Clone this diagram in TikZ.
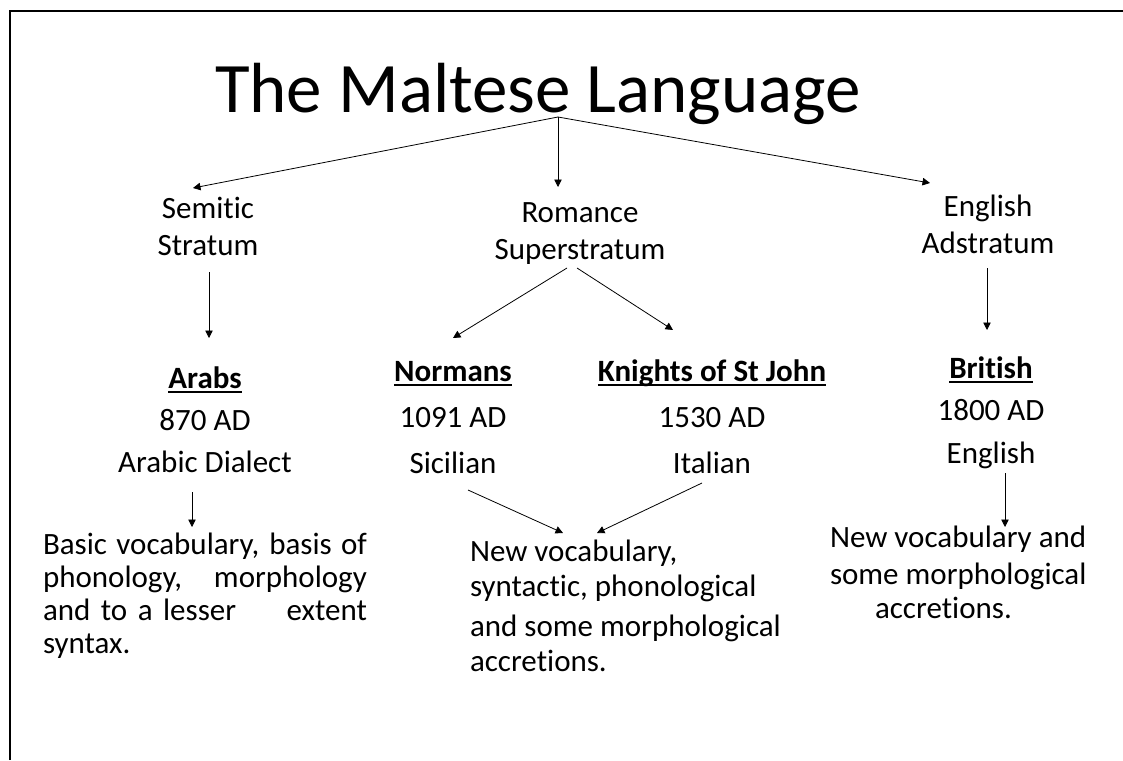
\documentclass[tikz,border=0pt]{standalone}
\usepackage{fontspec}
\setmainfont{Carlito}[RawFeature={-liga;-clig;-dlig;-calt}]
\usetikzlibrary{arrows.meta}
\newcommand\myul[1]{\setbox0\hbox{#1}\rlap{\rule[-4.5pt]{\wd0}{1.6pt}}\box0}
\newcommand\fs[1]{\fontsize{31}{#1}\selectfont}
\begin{document}
\begin{tikzpicture}[x=1pt,y=-1pt,
  lbl/.style={inner sep=0pt,outer sep=0pt,anchor=north,align=center},
  body/.style={inner sep=0pt,outer sep=0pt,anchor=north west,align=left},
  arr/.style={-{Triangle[length=7.5pt,width=7.5pt]},line width=0.8pt},
  frame/.style={line width=1.5pt}]
\fill[white] (0,0) rectangle (1123,760);
\useasboundingbox (0,0) rectangle (1123,760);
\draw[frame] (10,760) -- (10,11) -- (1123,11);

\node[inner sep=0pt,outer sep=0pt,anchor=base,font={\fontsize{71}{80}\selectfont}] (title) at (538,112) {The Maltese Language};

\node[lbl,font={\fs{37}}] (semitic) at (208,193) {\rule{0pt}{25pt}Semitic\\Stratum};
\node[lbl,font={\fs{37}}] (romance) at (580,197) {\rule{0pt}{25pt}Romance\\Superstratum};
\node[lbl,font={\fs{37}}] (english) at (988,191) {\rule{0pt}{25pt}English\\Adstratum};

\node[lbl,font={\fs{42}}] (arabs) at (205,363) {\rule{0pt}{25pt}\textbf{\myul{Arabs}}\\870 AD\\Arabic Dialect};
\node[lbl,font={\fs{46}}] (normans) at (453,356) {\rule{0pt}{25pt}\textbf{\myul{Normans}}\\1091 AD\\Sicilian};
\node[lbl,font={\fs{46}}] (knights) at (712,356) {\rule{0pt}{25pt}\textbf{\myul{Knights of St John}}\\1530 AD\\Italian};
\node[lbl,font={\fs{42.5}}] (british) at (991,353) {\rule{0pt}{25pt}\textbf{\myul{British}}\\1800 AD\\English};

\node[body,font={\fs{33}}] (leftbody) at (43,529) {\rule{0pt}{25pt}\makebox[324pt][s]{Basic vocabulary, basis of}\\
\makebox[324pt][s]{phonology, morphology}\\
\makebox[324pt][s]{and to a lesser\hspace{40pt} extent}\\
syntax.};
\node[body,font={\fs{35}}] (midbody) at (470,536) {\rule{0pt}{25pt}New vocabulary,\\syntactic, phonological\\[5pt]and some morphological\\accretions.};
\node[body,font={\fs{37}}] (rightbody) at (830,522) {\rule{0pt}{25pt}New vocabulary and\\some morphological\\[-3pt]\hspace*{45pt}accretions.};

\draw[arr] ([xshift=20pt,yshift=-5pt]title.base) -- ([xshift=-15pt,yshift=5pt]semitic.north);
\draw[arr] ([xshift=20pt,yshift=-5pt]title.base) -- ([xshift=-22pt,yshift=10pt]romance.north);
\draw[arr] ([xshift=20pt,yshift=-5pt]title.base) -- ([xshift=-58pt,yshift=8pt]english.north);
\draw[arr] ([xshift=1pt,yshift=-79pt]semitic.north) -- ([xshift=4pt,yshift=25pt]arabs.north);
\draw[arr] ([xshift=-13pt,yshift=-71pt]romance.north) -- ([yshift=18pt]normans.north);
\draw[arr] ([xshift=-3pt,yshift=-71pt]romance.north) -- ([xshift=-39pt,yshift=26pt]knights.north);
\draw[arr] ([xshift=-1pt,yshift=-77pt]english.north) -- ([xshift=-4pt,yshift=23pt]british.north);
\draw[arr] ([xshift=-13pt,yshift=-129pt]arabs.north) -- ([xshift=149pt,yshift=2pt]leftbody.north west);
\draw[arr] ([xshift=15pt,yshift=-134pt]normans.north) -- ([xshift=93pt,yshift=3pt]midbody.north west);
\draw[arr] ([xshift=-10pt,yshift=-127pt]knights.north) -- ([xshift=127pt,yshift=3pt]midbody.north west);
\draw[arr] ([xshift=14pt,yshift=-120pt]british.north) -- ([xshift=175pt,yshift=-5pt]rightbody.north west);
\end{tikzpicture}
\end{document}
